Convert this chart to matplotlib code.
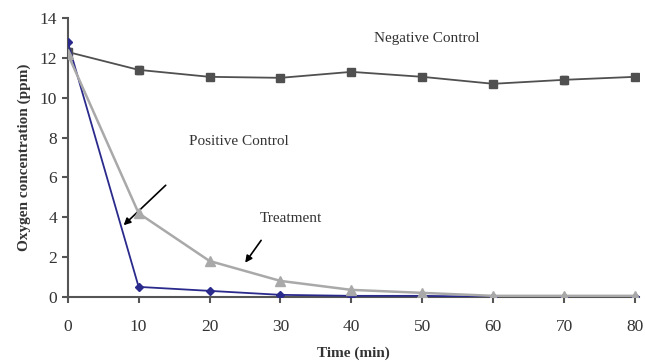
import numpy as np
import matplotlib.pyplot as plt

plt.rcParams['font.family'] = ['Liberation Serif', 'DejaVu Serif']

time = [0, 10, 20, 30, 40, 50, 60, 70, 80]
negative = [12.3, 11.4, 11.05, 11.0, 11.3, 11.05, 10.7, 10.9, 11.05]
negative_err = [0.2, 0.2, 0.15, 0.15, 0.15, 0.15, 0.15, 0.2, 0.15]
positive = [12.8, 0.5, 0.3, 0.1, 0.05, 0.05, 0.0, 0.0, 0.0]
treatment = [12.2, 4.2, 1.8, 0.8, 0.35, 0.2, 0.05, 0.05, 0.05]

fig = plt.figure(figsize=(6.45, 3.62), dpi=100)
ax = fig.add_axes([0.105, 0.18, 0.885, 0.77])

ax.errorbar(time, negative, yerr=negative_err, color='#505050', marker='s', markersize=6,
            linewidth=1.3, capsize=2.5, elinewidth=1, zorder=3)
ax.plot(time, positive, color='#2a2a8c', marker='D', markersize=4, linewidth=1.3, zorder=4)
ax.plot(time, treatment, color='#a9a9a9', marker='^', markersize=7, linewidth=1.8, zorder=5)

ax.text(50.6, 13.0, "Negative Control", ha='center', va='center', fontsize=11, color='#333333')
ax.text(24.2, 7.8, "Positive Control", ha='center', va='center', fontsize=11, color='#333333')
ax.text(31.5, 3.95, "Treatment", ha='center', va='center', fontsize=11, color='#333333')
ax.annotate("", xy=(7.6, 3.5), xytext=(14.1, 5.7),
            arrowprops=dict(arrowstyle='-|>', color='black', lw=1.2, mutation_scale=10))
ax.annotate("", xy=(24.8, 1.6), xytext=(27.5, 2.95),
            arrowprops=dict(arrowstyle='-|>', color='black', lw=1.2, mutation_scale=10))

ax.set_xlim(0, 80.5)
ax.set_ylim(0, 14)
ax.set_xticks(time)
ax.set_yticks(np.arange(0, 15, 2))
ax.spines['top'].set_visible(False)
ax.spines['right'].set_visible(False)
for s in ['left', 'bottom']:
    ax.spines[s].set_color('#555555')
    ax.spines[s].set_linewidth(1.5)
ax.tick_params(axis='both', colors='#555555', labelcolor='#333333', labelsize=12.5, width=1.5, length=4)
ax.tick_params(axis='x', pad=12)
ax.set_xlabel("Time (min)", fontsize=11, fontweight='bold', color='#333333', labelpad=8)
ax.set_ylabel("Oxygen concentration (ppm)", fontsize=11, fontweight='bold', color='#333333', labelpad=6)

fig.savefig("out.png", dpi=100)
